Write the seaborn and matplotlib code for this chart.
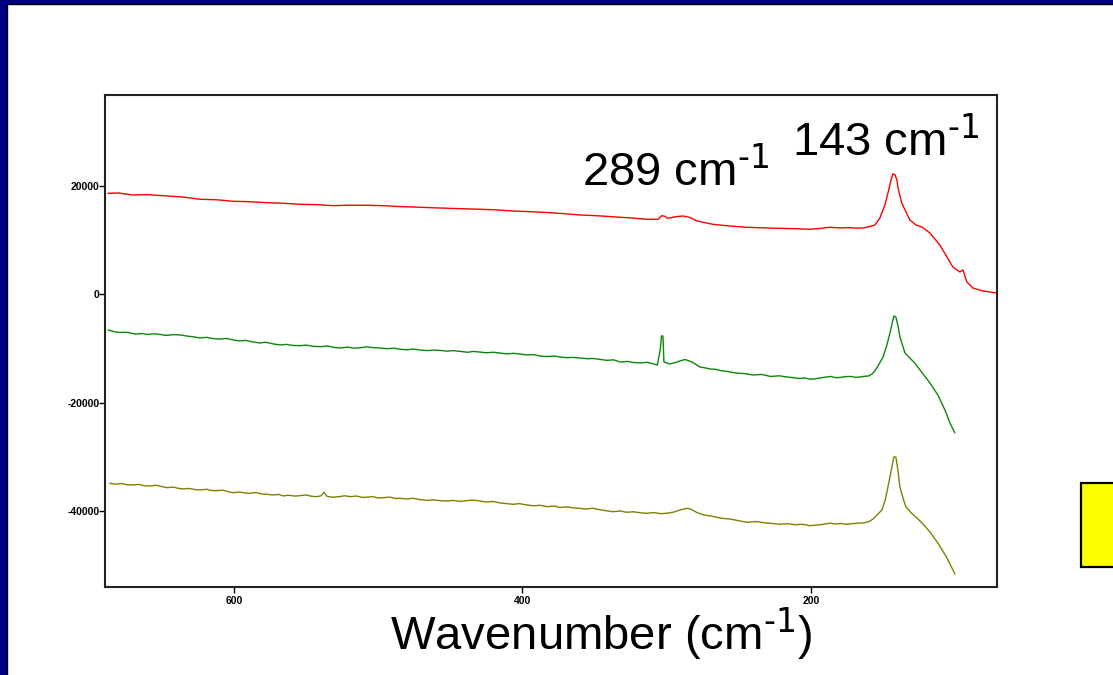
import numpy as np
import pandas as pd
import matplotlib
matplotlib.use("Agg")
import matplotlib.pyplot as plt
from matplotlib.patches import Rectangle
import seaborn as sns

# ---- data ----
red_wn = [687.3, 680, 670, 660, 646.4, 635, 623.6, 612, 600.7, 590, 577.1, 566, 554.2, 543,
          531.4, 520, 507.8, 500, 491.9, 485, 470, 452.3, 440, 430, 420, 406.6, 395, 383,
          372, 360.1, 348, 337, 325, 313.7, 306, 303.5, 301.2, 299.5, 297.7, 293, 288.7, 284,
          279, 273, 268, 256, 244.4, 232, 221.5, 210, 200.7, 194, 186.8, 180, 173, 168, 164,
          160, 155.6, 152.2, 148.7, 146.6, 144.5, 143.2, 141.8, 140.4, 139.7, 138.3, 137,
          134.1, 131.4, 127.2, 123, 117.5, 110.6, 105.7, 101.6, 96.7, 94.6, 91.9, 87.7, 80.8,
          75.9, 71]
red_val = [18640, 18700, 18330, 18400, 18150, 17950, 17540, 17450, 17170, 17100, 16910, 16800,
           16610, 16550, 16360, 16450, 16430, 16380, 16300, 16200, 16050, 15880, 15780, 15700,
           15600, 15380, 15250, 15100, 14900, 14640, 14500, 14300, 14100, 13850, 13850, 14510,
           14400, 14030, 14100, 14350, 14450, 14200, 13530, 13200, 12920, 12600, 12370, 12250,
           12180, 12100, 12000, 12150, 12370, 12250, 12300, 12200, 12240, 12450, 12790, 14080,
           16480, 18700, 21100, 22200, 22100, 21100, 19800, 18150, 16850, 15190, 13710, 12790,
           12420, 11310, 9100, 6880, 5040, 4120, 4490, 2270, 1160, 610, 420, 240]

green_wn = [687.3, 683, 679, 675, 672, 668, 664, 660, 655, 651, 647, 642, 637, 633, 628, 623.6,
            619, 614, 610, 605, 601, 596, 592, 587, 582, 578, 573, 568, 564, 559, 554, 550, 545,
            540, 535, 531, 526, 521, 517, 512, 508, 503, 499, 494, 489, 485, 480, 476, 471, 466,
            462, 457, 452, 448, 443, 438, 434, 430, 425, 420, 416, 411, 406, 402, 397, 392, 388,
            383, 378, 374, 369, 365, 360, 355, 351, 346, 341, 337, 332, 327, 323, 318, 314, 310,
            306.5, 304.5, 303.6, 302.6, 301.9, 298, 294, 290.8, 287.3, 282.5, 280, 277, 274,
            270, 266, 263, 258, 252, 246, 240.2, 234, 228, 222, 216.6, 212, 208, 204, 200.7,
            197, 193.7, 190, 186, 183, 179.9, 176, 172, 169, 166, 163, 160, 157.5, 155.6, 153,
            150, 147.5, 145.2, 142.5, 141.1, 139.5, 138.3, 134.8, 131.4, 128, 124.4, 117.5, 112,
            107.1, 103.6, 100.2]
green_val = [-6590, -6900, -7050, -7000, -7140, -7350, -7250, -7400, -7300, -7420, -7600, -7450,
             -7510, -7700, -7850, -8070, -7950, -8200, -8260, -8150, -8400, -8620, -8500, -8800,
             -8990, -8850, -9150, -9360, -9250, -9450, -9490, -9380, -9600, -9670, -9550, -9800,
             -9910, -9750, -9950, -9860, -9700, -9850, -9910, -10050, -9950, -10150, -10250,
             -10100, -10280, -10400, -10300, -10370, -10500, -10400, -10560, -10700, -10550,
             -10650, -10800, -10700, -10840, -11000, -10900, -11020, -11200, -11150, -11390,
             -11500, -11400, -11570, -11700, -11650, -11760, -11900, -11850, -12040, -12200,
             -12100, -12500, -12400, -12600, -12680, -12550, -12800, -13050, -10290, -7700,
             -7700, -12500, -12870, -12600, -12310, -12040, -12500, -12900, -13420, -13550,
             -13790, -13850, -14070, -14250, -14530, -14650, -14900, -14800, -15170, -15050,
             -15270, -15400, -15540, -15450, -15690, -15600, -15450, -15300, -15170, -15400,
             -15360, -15200, -15170, -15350, -15270, -15150, -15080, -14700, -14100, -13000,
             -11580, -9500, -7140, -4010, -4190, -6000, -7880, -10840, -11760, -12700, -13970,
             -16370, -18590, -21360, -23760, -25600]

olive_wn = [686, 682, 678, 674, 670, 666, 662, 658, 654, 650, 646.4, 642, 639, 635.4, 631, 627,
            623.6, 619, 615, 611.8, 608, 604, 600.7, 596, 592, 588.9, 585, 581, 577.1, 573, 569,
            566, 562, 558, 554.2, 550, 546, 542.5, 539.5, 537.6, 535.5, 531.4, 527, 523, 519.6,
            515, 511, 507.8, 504, 500, 496.7, 492, 488, 484.9, 480, 476, 471, 466, 462, 457,
            452.3, 448, 443, 439, 434, 429.5, 425, 420, 416, 411, 406.6, 402, 397, 392, 388, 383,
            378, 374, 369, 364, 360.1, 356, 351, 346, 342, 337.3, 332, 328, 323, 318, 313.7, 309,
            304, 299.8, 295, 290.5, 286, 283, 279, 274, 268, 262, 256, 250, 244.4, 238, 232, 227,
            221.5, 216, 211, 206, 200.7, 196, 192, 189, 186.8, 183, 179, 176, 173, 168, 164,
            160, 157, 154, 150.8, 148.5, 146.6, 144, 142.5, 141.1, 139.7, 138.3, 136, 134.1,
            130, 126.5, 122, 117.5, 112, 105.7, 100.2]
olive_val = [-34890, -35050, -34950, -35150, -35200, -35100, -35350, -35390, -35250, -35500,
             -35700, -35600, -35800, -35940, -35850, -36050, -36130, -36000, -36250, -36260,
             -36150, -36450, -36630, -36500, -36700, -36740, -36600, -36850, -36920, -37050,
             -36950, -37230, -37100, -37250, -37180, -37050, -37300, -37360, -37200, -36550,
             -37300, -37470, -37350, -37200, -37360, -37250, -37500, -37470, -37350, -37600,
             -37550, -37450, -37700, -37660, -37800, -37660, -37900, -38050, -37950, -38100,
             -38160, -38050, -38250, -38100, -38000, -38160, -38350, -38250, -38500, -38650,
             -38770, -38650, -38900, -39050, -38950, -39210, -39100, -39350, -39250, -39450,
             -39510, -39650, -39500, -39800, -39950, -40140, -40000, -40250, -40150, -40350,
             -40430, -40300, -40500, -40430, -40200, -39800, -39510, -39700, -40300, -40740,
             -41000, -41350, -41500, -41800, -42090, -41950, -42200, -42300, -42460, -42350,
             -42550, -42450, -42720, -42600, -42500, -42350, -42270, -42400, -42300, -42450,
             -42400, -42250, -42220, -42000, -41500, -40700, -39820, -38000, -35570,
             -32000, -30030, -30030, -32500, -35570, -37800, -39270, -40500, -41300, -42500,
             -43880, -45910, -48680, -51640]

series_names = ["red", "green", "olive"]
series_colors = ["#ff0000", "#0a870a", "#808000"]

x_ticks = [600, 400, 200]
y_ticks = [20000, 0, -20000, -40000]

df = pd.concat([
    pd.DataFrame({"wn": red_wn, "val": red_val, "s": "red"}),
    pd.DataFrame({"wn": green_wn, "val": green_val, "s": "green"}),
    pd.DataFrame({"wn": olive_wn, "val": olive_val, "s": "olive"}),
], ignore_index=True)

sns.set_theme(style="white")
plt.rcParams["font.family"] = ["Liberation Sans", "DejaVu Sans"]
plt.rcParams["mathtext.default"] = "regular"

W, H = 1113, 675
fig = plt.figure(figsize=(W / 100, H / 100), dpi=100, facecolor="#000080")
# white slide area
fig.patches.append(Rectangle((7 / W, -0.05), 1.0, 1.05 - 4 / H, transform=fig.transFigure,
                             facecolor="white", edgecolor="black", linewidth=1.0, zorder=-5))
# yellow box at right
fig.patches.append(Rectangle((1081 / W, 1 - 567 / H), 60 / W, 84 / H, transform=fig.transFigure,
                             facecolor="#ffff00", edgecolor="black", linewidth=1.6, zorder=-4))

ax = fig.add_axes([105 / W, 1 - 587 / H, (997 - 105) / W, (587 - 95) / H])
ax.set_facecolor("white")

sns.lineplot(data=df, x="wn", y="val", hue="s", palette=dict(zip(series_names, series_colors)),
             sort=False, estimator=None, linewidth=1.0, legend=False, ax=ax)

ax.set_xlim(689.4, 71.0)
ax.set_ylim(-54040, 36790)
ax.set_xticks(x_ticks)
ax.set_yticks(y_ticks)
ax.set_xticklabels([str(t) for t in x_ticks])
ax.set_yticklabels([str(t) for t in y_ticks])
ax.tick_params(axis="both", direction="out", length=4.5, width=1, color="black",
               labelsize=7.5, labelcolor="black", bottom=True, left=True)
ax.tick_params(axis="x", pad=2)
ax.tick_params(axis="y", pad=-0.5)
for lab in ax.get_xticklabels() + ax.get_yticklabels():
    lab.set_fontweight("bold")
for sp in ax.spines.values():
    sp.set_visible(True)
    sp.set_color("#222222")
    sp.set_linewidth(1.5)
ax.set_xlabel("")
ax.set_ylabel("")

ax.text(358.7, 19990, r"289 cm$^{\text{-1}}$", fontsize=34, color="black", va="baseline", ha="left")
ax.text(213.2, 25530, r"143 cm$^{\text{-1}}$", fontsize=34, color="black", va="baseline", ha="left")
fig.text(601 / W, 1 - 650 / H, r"Wavenumber (cm$^{\text{-1}}$)", fontsize=34, color="black",
         ha="center", va="baseline")

fig.savefig("out.png", dpi=100, facecolor=fig.get_facecolor())
